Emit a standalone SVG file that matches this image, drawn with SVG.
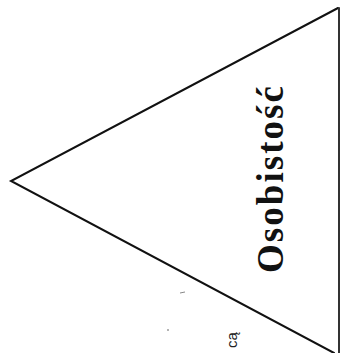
<svg xmlns="http://www.w3.org/2000/svg" width="340" height="353" viewBox="0 0 340 353">
<style>
.edge{fill:none;stroke:#111;stroke-width:2;stroke-linecap:round}
.title{font-family:"Liberation Serif","Times New Roman",serif;font-weight:bold;font-size:37px;fill:#111}
.small{font-family:"Liberation Sans",Arial,sans-serif;font-size:15px;fill:#222}
</style>
<rect width="340" height="353" fill="#fff"/>
<g id="connectors">
<path class="edge" d="M338,8 L11,181 L334,353"/>
<path class="edge" d="M339,8 L339,353" stroke-width="1.6" style="stroke:#333"/>
</g>
<g id="osobistosc">
<text class="title" transform="translate(283,273) rotate(-90)" textLength="187" lengthAdjust="spacing">Osobistość</text>
</g>
<g id="ca">
<text class="small" transform="translate(237,348) rotate(-90)">cą</text>
</g>
<g id="marks">
<path d="M180,293 L185,292" stroke="#888" stroke-width="1"/>
<circle cx="168" cy="330" r="0.8" fill="#555"/>
</g>
</svg>
